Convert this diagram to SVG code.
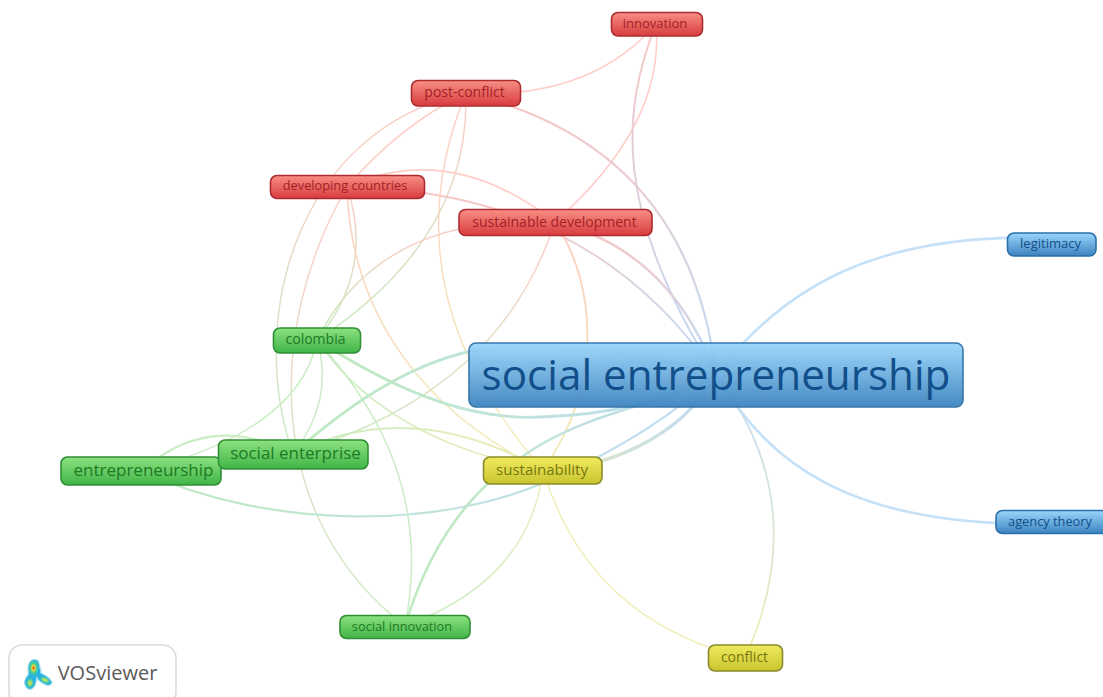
<svg xmlns="http://www.w3.org/2000/svg" width="1103" height="697" viewBox="0 0 1103 697">
<style>
text{font-family:"Open Sans","Noto Sans","DejaVu Sans",sans-serif;text-anchor:middle}
.e{fill:none;stroke-linecap:round}
.n{stroke-width:1.6}
.r rect{fill:url(#fr);stroke:#ad2b30}.r text{fill:#a32126}
.g rect{fill:url(#fg);stroke:#2f8f35}.g text{fill:#1c7a25}
.b rect{fill:url(#fb);stroke:#2d6fa8}.b text{fill:#124f8a}
.y rect{fill:url(#fy);stroke:#8b8a2c}.y text{fill:#77770f}
.pr{stroke:#ffc4be}.pb{stroke:#bcdcf7}.pg{stroke:#bfeab8}
.rb{stroke:url(#rb)}.rg{stroke:url(#rg)}.ry{stroke:url(#ry)}.gb{stroke:url(#gb)}.gy{stroke:url(#gy)}.yb{stroke:url(#yb)}.by{stroke:url(#by)}.yg{stroke:url(#yg)}
</style>
<defs>
<linearGradient id="fr" x1="0" y1="0" x2="0" y2="1"><stop offset="0" stop-color="#f88f85"/><stop offset="1" stop-color="#d83c3e"/></linearGradient>
<linearGradient id="fg" x1="0" y1="0" x2="0" y2="1"><stop offset="0" stop-color="#8ce280"/><stop offset="1" stop-color="#41b447"/></linearGradient>
<linearGradient id="fb" x1="0" y1="0" x2="0" y2="1"><stop offset="0" stop-color="#9bd6fc"/><stop offset="1" stop-color="#3b83bf"/></linearGradient>
<linearGradient id="fy" x1="0" y1="0" x2="0" y2="1"><stop offset="0" stop-color="#f0ea5e"/><stop offset="1" stop-color="#c9c52f"/></linearGradient>
<linearGradient id="rb" x1="0" y1="0" x2="0" y2="1"><stop offset="0" stop-color="#f9bdb9"/><stop offset="1" stop-color="#b4d6f7"/></linearGradient>
<linearGradient id="rg" x1="0" y1="0" x2="0" y2="1"><stop offset="0" stop-color="#ffc4be"/><stop offset="1" stop-color="#bfe8b6"/></linearGradient>
<linearGradient id="ry" x1="0" y1="0" x2="0" y2="1"><stop offset="0" stop-color="#ffc4b8"/><stop offset="1" stop-color="#efeba8"/></linearGradient>
<linearGradient id="gb" x1="0" y1="0" x2="1" y2="0"><stop offset="0" stop-color="#b5e8b4"/><stop offset="1" stop-color="#b4d6f7"/></linearGradient>
<linearGradient id="gy" x1="0" y1="0" x2="1" y2="0"><stop offset="0" stop-color="#bfeab8"/><stop offset="1" stop-color="#ecebaa"/></linearGradient>
<linearGradient id="yg" x1="0" y1="0" x2="0" y2="1"><stop offset="0" stop-color="#ecebaa"/><stop offset="1" stop-color="#bfeab8"/></linearGradient>
<linearGradient id="yb" x1="0" y1="0" x2="1" y2="0"><stop offset="0" stop-color="#e2e6b0"/><stop offset="1" stop-color="#b4d6f7"/></linearGradient>
<linearGradient id="by" x1="0" y1="0" x2="0" y2="1"><stop offset="0" stop-color="#b4d6f7"/><stop offset="1" stop-color="#eeeba8"/></linearGradient>
<radialGradient id="lt" cx="0.5" cy="0.5" r="0.55"><stop offset="0" stop-color="#e02018"/><stop offset="0.28" stop-color="#f0d838"/><stop offset="0.55" stop-color="#50d090"/><stop offset="1" stop-color="#28b4dc"/></radialGradient>
<radialGradient id="ll" cx="0.5" cy="0.5" r="0.55"><stop offset="0" stop-color="#f4e040"/><stop offset="0.55" stop-color="#70d888"/><stop offset="1" stop-color="#28b4dc"/></radialGradient>
</defs>
<rect width="1103" height="697" fill="#fff"/>
<g id="connectors" opacity="0.85">
<path class="e pr" stroke-width="1.6" d="M466,93 Q590,100 656,24"/>
<path class="e pr" stroke-width="1.5" d="M656,24 Q665,125 555,222"/>
<path class="e rb" stroke-width="2" d="M656,24 C622,110 612,210 716,375"/>
<path class="e rb" stroke-width="2.2" d="M466,93 Q689,146 716,375"/>
<path class="e rb" stroke-width="1.9" d="M347,187 Q590,190 716,375"/>
<path class="e rb" stroke-width="2.4" d="M555,222 Q670,250 716,375"/>
<path class="e ry" stroke-width="1.4" d="M466,93 Q385,290 543,470"/>
<path class="e rg" stroke-width="1.5" d="M466,93 Q470,240 317,340"/>
<path class="e pr" stroke-width="1.4" d="M466,93 Q400,125 347,187"/>
<path class="e rg" stroke-width="1.4" d="M466,93 C296,130 246,320 293,454"/>
<path class="e rg" stroke-width="1.4" d="M347,187 C264,330 266,520 405,626"/>
<path class="e rg" stroke-width="1.5" d="M347,187 Q375,270 317,340"/>
<path class="e ry" stroke-width="1.5" d="M347,187 C350,290 400,400 543,470"/>
<path class="e pr" stroke-width="1.6" d="M347,187 Q450,140 555,222"/>
<path class="e rg" stroke-width="1.5" d="M555,222 Q380,213 317,340"/>
<path class="e rg" stroke-width="1.4" d="M555,222 C520,330 440,410 293,454"/>
<path class="e ry" stroke-width="1.9" d="M555,222 C600,290 600,390 543,470"/>
<path class="e pg" stroke-width="1.4" d="M317,340 Q300,430 141,471"/>
<path class="e pg" stroke-width="1.4" d="M317,340 Q335,400 293,454"/>
<path class="e pg" stroke-width="1.4" d="M317,340 C380,410 430,500 405,626"/>
<path class="e gy" stroke-width="1.4" d="M317,340 Q385,440 543,470"/>
<path class="e gb" stroke-width="2.8" d="M317,340 C410,400 480,420 540,417 C610,415 670,400 716,375"/>
<path class="e gb" stroke-width="3" d="M293,454 C370,385 450,340 540,345 C610,350 670,360 716,375"/>
<path class="e gy" stroke-width="1.9" d="M293,454 Q410,395 543,470"/>
<path class="e gb" stroke-width="2.2" d="M141,471 C270,530 440,530 550,480 C620,450 680,410 716,375"/>
<path class="e gb" stroke-width="2.6" d="M405,626 C440,510 500,470 540,445 C600,410 660,405 716,375"/>
<path class="e yg" stroke-width="1.4" d="M543,470 Q530,580 405,626"/>
<path class="e pg" stroke-width="2.2" d="M141,471 Q210,410 293,454"/>
<path class="e yb" stroke-width="3.4" d="M543,470 C600,470 680,440 716,375"/>
<path class="e pb" stroke-width="2.6" d="M716,375 C785,285 880,232 1051,238"/>
<path class="e pb" stroke-width="2.6" d="M716,375 C770,465 850,527 1050,524"/>
<path class="e by" stroke-width="1.8" d="M716,375 C790,470 785,570 745,658"/>
<path class="e" stroke="#eeeba8" stroke-width="1.4" d="M543,470 C570,560 630,630 745,658"/>
</g>
<g id="node-innovation" class="r"><rect class="n" x="611.500" y="12.500" width="91" height="23.500" rx="6.500"/><text x="655" y="28" font-size="13">innovation</text></g>
<g id="node-post-conflict" class="r"><rect class="n" x="411.500" y="80.500" width="109" height="25.500" rx="6.500"/><text x="464.500" y="97" font-size="14">post-conflict</text></g>
<g id="node-developing-countries" class="r"><rect class="n" x="270.500" y="175.500" width="154" height="23" rx="6.500"/><text x="345" y="190" font-size="12.800">developing countries</text></g>
<g id="node-sustainable-development" class="r"><rect class="n" x="459" y="209.500" width="193" height="26" rx="6.500"/><text x="554.500" y="226.500" font-size="14">sustainable development</text></g>
<g id="node-colombia" class="g"><rect class="n" x="273.500" y="328" width="87" height="25" rx="6.500"/><text x="315.500" y="344" font-size="14">colombia</text></g>
<g id="node-social-entrepreneurship" class="b"><rect class="n" x="469" y="343" width="494" height="64" rx="7" opacity="0.94"/><text x="716" y="390" font-size="42.200">social entrepreneurship</text></g>
<g id="node-entrepreneurship" class="g"><rect class="n" x="61" y="457" width="160" height="28" rx="6.500"/><text x="143.500" y="476" font-size="17">entrepreneurship</text></g>
<g id="node-social-enterprise" class="g"><rect class="n" x="218.500" y="440" width="149.500" height="29" rx="6.500"/><text x="295.500" y="459" font-size="17">social enterprise</text></g>
<g id="node-sustainability" class="y"><rect class="n" x="483.500" y="457" width="118.500" height="27" rx="6.500"/><text x="542" y="475" font-size="15">sustainability</text></g>
<g id="node-social-innovation" class="g"><rect class="n" x="340" y="615.500" width="130" height="23" rx="6.500"/><text x="402" y="631" font-size="12.800">social innovation</text></g>
<g id="node-conflict" class="y"><rect class="n" x="708.500" y="645" width="74" height="26" rx="6.500"/><text x="744.500" y="661.500" font-size="14">conflict</text></g>
<g id="node-legitimacy" class="b"><rect class="n" x="1007.500" y="233" width="88.500" height="23" rx="6.500"/><text x="1050.500" y="248" font-size="13">legitimacy</text></g>
<g id="node-agency-theory" class="b"><rect class="n" x="996" y="510.500" width="112" height="23" rx="6.500"/><text x="1050" y="526" font-size="12.800">agency theory</text></g>
<g id="logo">
<rect x="9" y="645" width="167" height="60" rx="13" fill="#fff" stroke="#dcdcdc" stroke-width="1.6"/>
<path d="M26,687 C23,683 25,678 28,675 C29,672 27,668 29,664 C31,658 38,658 39,663 C40,667 41,671 41,673 C45,675 50,678 52,682 C52,686 47,686 44,684 C41,682 38,681 37,678 C36,682 36,686 33,688 C31,690 28,690 26,687Z" fill="#28b4dc" stroke="#a9dfee" stroke-width="1.2"/>
<ellipse cx="33.500" cy="668" rx="5" ry="7.500" fill="url(#lt)"/>
<ellipse cx="30" cy="683" rx="3.500" ry="4.500" fill="url(#ll)"/>
<ellipse cx="45" cy="680" rx="5" ry="2.800" transform="rotate(25 45 680)" fill="url(#ll)"/>
<text x="107.500" y="680" font-size="20" fill="#5a5a5a">VOSviewer</text>
</g>
</svg>
